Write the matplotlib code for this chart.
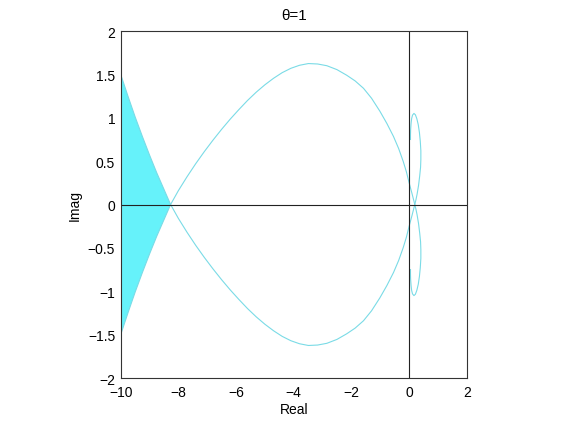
#boundary locus for theta=1
import numpy as np
import matplotlib.pyplot as plt

plt.rcParams['font.family'] = ['Liberation Sans', 'DejaVu Sans']

# upper small lobe -> crossing -> lower big arc -> left crossing -> up-left
lobe_x = [0.05, 0.05, 0.055, 0.07, 0.09, 0.12, 0.17, 0.22, 0.27, 0.32, 0.36, 0.39, 0.41,
          0.41, 0.40, 0.37, 0.33, 0.28, 0.24]
lobe_y = [0.75, 0.80, 0.86, 0.93, 0.99, 1.03, 1.05, 1.035, 0.99, 0.92, 0.83, 0.73, 0.62,
          0.52, 0.43, 0.33, 0.22, 0.12, 0.055]
arc_x = [0.20, 0.10, 0.0, -0.09, -0.20, -0.36, -0.54, -0.77, -1.01, -1.30, -1.58, -1.87,
         -2.16, -2.50, -2.85, -3.17, -3.49, -3.80, -4.10, -4.40, -4.70, -5.00, -5.30, -5.60,
         -5.90, -6.20, -6.50, -6.80, -7.10, -7.40, -7.70, -8.00, -8.27]
arc_y = [0.0, -0.13, -0.255, -0.375, -0.495, -0.645, -0.785, -0.935, -1.075, -1.225, -1.34,
         -1.425, -1.49, -1.555, -1.60, -1.62, -1.625, -1.605, -1.57, -1.52, -1.455, -1.38,
         -1.295, -1.20, -1.095, -0.985, -0.867, -0.742, -0.61, -0.47, -0.32, -0.16, 0.0]
tail_x = [-8.50, -8.75, -9.00, -9.25, -9.50, -9.75, -10.0, -10.3]
tail_y = [0.175, 0.365, 0.57, 0.785, 1.01, 1.25, 1.50, 1.80]

curve_x = lobe_x + arc_x + tail_x
curve_y = lobe_y + arc_y + tail_y

# the other half is the mirror image (conjugate points)
curve_x2 = curve_x
curve_y2 = [-v for v in curve_y]

# shaded wedge at the left, bounded by the two tails
n = 7
wedge_x = [-8.27] + tail_x[:n] + tail_x[:n][::-1] + [-8.27]
wedge_y = [0.0] + tail_y[:n] + [-v for v in tail_y[:n]][::-1] + [0.0]

x_ticks = [-10, -8, -6, -4, -2, 0, 2]
y_ticks = [-2, -1.5, -1, -0.5, 0, 0.5, 1, 1.5, 2]

fig = plt.figure(figsize=(5.67, 4.27), dpi=100)
ax = fig.add_axes([0.2129, 0.1124, 0.6102, 0.8126])

ax.fill(wedge_x, wedge_y, color='#66f2fa', lw=0)
ax.plot(curve_x, curve_y, color='#7adbe6', lw=0.8)
ax.plot(curve_x2, curve_y2, color='#7adbe6', lw=0.8)

ax.axhline(0, color='#222222', lw=0.8)
ax.axvline(0, color='#222222', lw=0.8)

ax.set_xlim(-10, 2)
ax.set_ylim(-2, 2)
ax.set_xticks(x_ticks)
ax.set_yticks(y_ticks)
ax.set_xticklabels(['\u221210', '\u22128', '\u22126', '\u22124', '\u22122', '0', '2'])
ax.set_yticklabels(['\u22122', '\u22121.5', '\u22121', '\u22120.5', '0', '0.5', '1', '1.5', '2'])
ax.tick_params(length=0, labelsize=10)
ax.tick_params(axis='x', pad=5)
ax.tick_params(axis='y', pad=4)
for s in ax.spines.values():
    s.set_color('#333333')
    s.set_linewidth(0.8)

ax.set_xlabel('Real', fontsize=10, labelpad=2)
ax.set_ylabel('Imag', fontsize=10, labelpad=4)
ax.set_title('\u03b8=1', fontsize=11, pad=9)

plt.savefig('out.png', dpi=100)
